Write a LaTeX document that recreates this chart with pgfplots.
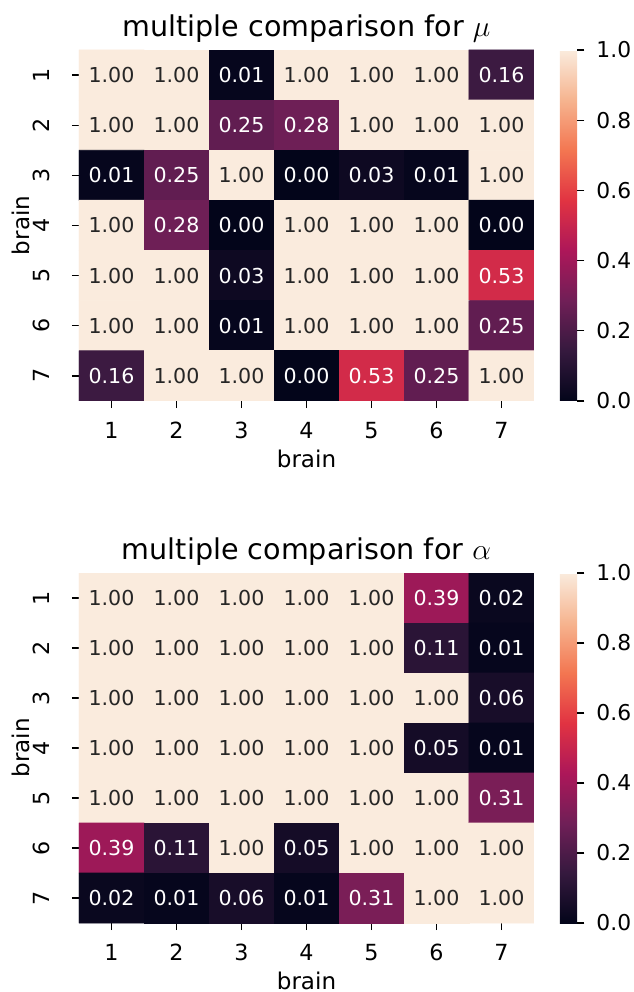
\documentclass[border=0pt]{standalone}
\usepackage{fontspec}
\setmainfont{DejaVu Sans}
\usepackage{pgfplots}
\pgfplotsset{compat=1.18}
\usepackage{pgfplotstable}
\definecolor{annotdark}{HTML}{262626}

\pgfplotstableread{
r c v
1 1 1.00
1 2 1.00
1 3 0.01
1 4 1.00
1 5 1.00
1 6 1.00
1 7 0.16
2 1 1.00
2 2 1.00
2 3 0.25
2 4 0.28
2 5 1.00
2 6 1.00
2 7 1.00
3 1 0.01
3 2 0.25
3 3 1.00
3 4 0.00
3 5 0.03
3 6 0.01
3 7 1.00
4 1 1.00
4 2 0.28
4 3 0.00
4 4 1.00
4 5 1.00
4 6 1.00
4 7 0.00
5 1 1.00
5 2 1.00
5 3 0.03
5 4 1.00
5 5 1.00
5 6 1.00
5 7 0.53
6 1 1.00
6 2 1.00
6 3 0.01
6 4 1.00
6 5 1.00
6 6 1.00
6 7 0.25
7 1 0.16
7 2 1.00
7 3 1.00
7 4 0.00
7 5 0.53
7 6 0.25
7 7 1.00
}\mutab

\pgfplotstableread{
r c v
1 1 1.00
1 2 1.00
1 3 1.00
1 4 1.00
1 5 1.00
1 6 0.39
1 7 0.02
2 1 1.00
2 2 1.00
2 3 1.00
2 4 1.00
2 5 1.00
2 6 0.11
2 7 0.01
3 1 1.00
3 2 1.00
3 3 1.00
3 4 1.00
3 5 1.00
3 6 1.00
3 7 0.06
4 1 1.00
4 2 1.00
4 3 1.00
4 4 1.00
4 5 1.00
4 6 0.05
4 7 0.01
5 1 1.00
5 2 1.00
5 3 1.00
5 4 1.00
5 5 1.00
5 6 1.00
5 7 0.31
6 1 0.39
6 2 0.11
6 3 1.00
6 4 0.05
6 5 1.00
6 6 1.00
6 7 1.00
7 1 0.02
7 2 0.01
7 3 0.06
7 4 0.01
7 5 0.31
7 6 1.00
7 7 1.00
}\alphatab

\newcommand{\annottext}[1]{\ifdim#1pt<0.9pt\textcolor{white}{#1}\else\textcolor{annotdark}{#1}\fi}

\pgfplotsset{
  colormap={rocket}{rgb255(0pt)=(3,5,26); rgb255(1pt)=(53,25,62); rgb255(2pt)=(112,31,87); rgb255(3pt)=(173,23,89); rgb255(4pt)=(225,51,66); rgb255(5pt)=(243,118,81); rgb255(6pt)=(246,180,143); rgb255(7pt)=(250,235,221)},
  /pgf/number format/assume math mode=true,
  hm/.style={
    scale only axis, width=221.13pt,
    xmin=0.5, xmax=7.5, ymin=0.5, ymax=7.5,
    axis line style={draw=none},
    xtick={1,...,7}, xticklabels={1,2,3,4,5,6,7},
    ytick={1,...,7}, yticklabels={7,6,5,4,3,2,1},
    tick align=outside, xtick pos=left, ytick pos=left,
    major tick length=3.5pt, tick style={black, line width=0.6pt},
    tick label style={font=\fontsize{10.8}{12}\selectfont},
    xticklabel style={anchor=base, yshift=-14.6pt},
    yticklabel style={xshift=-10.7pt, rotate=90, anchor=base},
    xlabel={brain}, ylabel={brain},
    label style={font=\fontsize{11.2}{13}\selectfont},
    xlabel style={at={(axis description cs:0.5,0)}, anchor=base, yshift=-32.4pt},
    ylabel style={at={(axis description cs:-0.1077,0.5)}, anchor=base},
    title style={at={(axis description cs:0.5,1)}, anchor=base, yshift=0.6pt, font=\fontsize{13.9}{16}\selectfont},
    colormap name=rocket, point meta min=0, point meta max=1,
    colorbar,
    colorbar style={
      scale only axis, width=8.3pt,
      at={(parent axis.north east)}, anchor=north west, xshift=4.1pt,
      ytick={0,0.2,0.4,0.6,0.8,1}, ytick pos=right,
      axis line style={draw=none},
      tick align=outside, major tick length=3.5pt, tick style={black, line width=0.6pt},
      yticklabel style={xshift=2.4pt, font=\fontsize{10.6}{12}\selectfont, /pgf/number format/fixed, /pgf/number format/fixed zerofill, /pgf/number format/precision=1},
    },
  },
  annot/.style={
    draw=none, mark=none,
    point meta=explicit symbolic,
    nodes near coords={\annottext{\pgfplotspointmeta}},
    nodes near coords align=center,
    every node near coord/.append style={font=\fontsize{10}{12}\selectfont, anchor=center},
  },
}

\begin{document}
\begin{tikzpicture}
\useasboundingbox (0,0) rectangle (308.12pt,482.11pt);
\begin{axis}[hm, at={(38.39pt,287.23pt)}, anchor=south west, height=170.59pt,
  colorbar style={height=170.59pt},
  title={multiple comparison for $\mu$}]
\addplot[matrix plot*, mesh/cols=7, point meta=explicit] table[x=c, y expr=8-\thisrow{r}, meta=v]{\mutab};
\addplot[annot] table[x=c, y expr=8-\thisrow{r}, meta=v]{\mutab};
\end{axis}
\begin{axis}[hm, at={(38.39pt,33.53pt)}, anchor=south west, height=170.1pt,
  colorbar style={height=170.1pt},
  title={multiple comparison for $\alpha$}]
\addplot[matrix plot*, mesh/cols=7, point meta=explicit] table[x=c, y expr=8-\thisrow{r}, meta=v]{\alphatab};
\addplot[annot] table[x=c, y expr=8-\thisrow{r}, meta=v]{\alphatab};
\end{axis}
\end{tikzpicture}
\end{document}
